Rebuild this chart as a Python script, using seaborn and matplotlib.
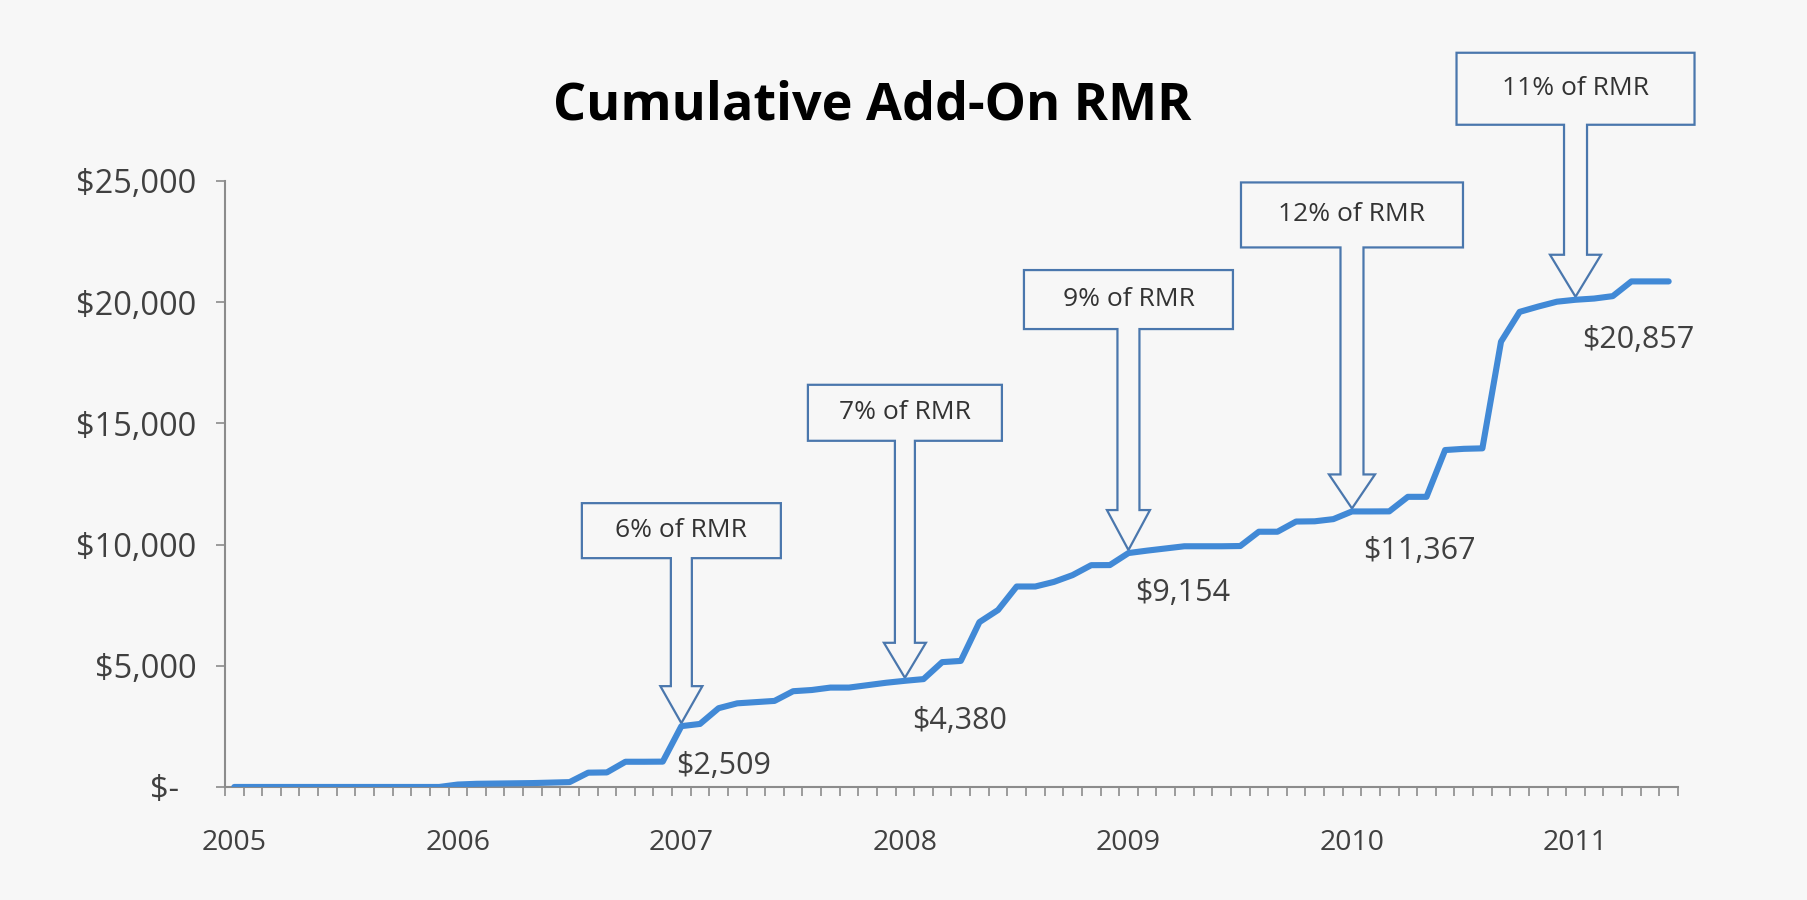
import numpy as np
import pandas as pd
import matplotlib
matplotlib.use("Agg")
import matplotlib.pyplot as plt
import matplotlib.transforms as mtransforms
from matplotlib.patches import Polygon
from matplotlib.ticker import FuncFormatter
import seaborn as sns

# Cumulative add-on RMR by month, Jan 2005 - Jun 2011
years = ["2005", "2006", "2007", "2008", "2009", "2010", "2011"]
rmr = [
    0, 0, 0, 0, 0, 0, 0, 0, 0, 0, 0, 0,                                          # 2005
    100, 130, 140, 150, 160, 180, 200, 590, 600, 1040, 1040, 1045,               # 2006
    2509, 2600, 3250, 3450, 3500, 3550, 3950, 4000, 4100, 4100, 4200, 4300,      # 2007
    4380, 4450, 5150, 5200, 6800, 7300, 8270, 8270, 8460, 8740, 9150, 9154,      # 2008
    9650, 9750, 9840, 9930, 9930, 9930, 9940, 10530, 10530, 10950, 10960, 11050, # 2009
    11367, 11367, 11370, 11970, 11970, 13900, 13950, 13970, 18370, 19600, 19820, 20020,  # 2010
    20100, 20150, 20250, 20857, 20857, 20857,                                    # 2011
]

# call-out arrows: text, month index they point at, and the value labels
callout_text = ["6% of RMR", "7% of RMR", "9% of RMR", "12% of RMR", "11% of RMR"]
callout_month = [24, 36, 48, 60, 72]
label_values = [2509, 4380, 9154, 11367, 20857]
label_dx = [-4, 5, 5, 8, 5]  # small horizontal nudges (points)

# call-out geometry in pixels: box w/h, gap tip->box, shaft w, head w/h
box_w = [199, 194, 209, 222, 238]
box_h = [55, 56, 59, 65, 72]
box_gap = [165, 237, 221, 261, 172]
shaft_w = [21, 20, 22, 23, 23]
head_w = [42, 42, 43, 46, 51]
head_h = [37, 35, 40, 34, 42]

df = pd.DataFrame({"month": np.arange(len(rmr)), "rmr": rmr})

sns.set_theme(style="white")
plt.rcParams["font.family"] = ["Open Sans", "DejaVu Sans"]

bg = "#f7f7f7"
axis_col = "#8c8c8c"
edge_col = "#4a77ad"

fig = plt.figure(figsize=(18.07, 9.0), dpi=100, facecolor=bg)
ax = fig.add_axes([0.1245, 0.1256, 0.8041, 0.6733])
ax.set_facecolor(bg)

sns.lineplot(data=df, x="month", y="rmr", ax=ax, color="#4189d6", linewidth=4.4,
             solid_capstyle="round", solid_joinstyle="round", zorder=3)

ax.set_xlim(-0.5, len(rmr) - 0.5)
ax.set_ylim(0, 25000)
ax.set_xlabel("")
ax.set_ylabel("")

for s in ["top", "right"]:
    ax.spines[s].set_visible(False)
for s in ["left", "bottom"]:
    ax.spines[s].set_color(axis_col)
    ax.spines[s].set_linewidth(1.5)

# y axis: accounting style dollars
ax.set_yticks(range(0, 25001, 5000))
ax.yaxis.set_major_formatter(FuncFormatter(lambda v, p: "$-  " if v == 0 else f"${v:,.0f}"))
ax.tick_params(axis="y", left=True, length=6.5, width=1.2, color=axis_col, pad=14,
               labelsize=23.5, labelcolor="#404040")

# x axis: a tick between every month, year labels at January
ax.set_xticks(np.arange(0, len(rmr), 12))
ax.set_xticklabels(years)
ax.set_xticks(np.arange(-0.5, len(rmr)), minor=True)
ax.tick_params(axis="x", which="major", bottom=True, length=0, pad=30,
               labelsize=20.5, labelcolor="#404040")
ax.tick_params(axis="x", which="minor", bottom=True, length=6.5, width=1.2, color=axis_col)

fig.text(0.4827, 0.882, "Cumulative Add-On RMR", ha="center", va="center",
         fontsize=37.5, fontweight="bold", color="black")

# arrow call-outs drawn in pixel space, anchored on the data point
ident = mtransforms.IdentityTransform()
for i, txt in enumerate(callout_text):
    m = callout_month[i]
    tx, ty = ax.transData.transform((m, rmr[m]))
    ty += 3
    bw, bh, gap = box_w[i], box_h[i], box_gap[i]
    sw, hw, hh = shaft_w[i], head_w[i], head_h[i]
    verts = [
        (tx, ty),
        (tx + hw / 2, ty + hh),
        (tx + sw / 2, ty + hh),
        (tx + sw / 2, ty + gap),
        (tx + bw / 2, ty + gap),
        (tx + bw / 2, ty + gap + bh),
        (tx - bw / 2, ty + gap + bh),
        (tx - bw / 2, ty + gap),
        (tx - sw / 2, ty + gap),
        (tx - sw / 2, ty + hh),
        (tx - hw / 2, ty + hh),
    ]
    ax.add_patch(Polygon(verts, closed=True, transform=ident, clip_on=False,
                         facecolor=bg, edgecolor=edge_col, linewidth=1.6, zorder=2))
    ax.text(tx, ty + gap + bh / 2, txt, transform=ident, ha="center", va="center",
            fontsize=19, color="#333333", clip_on=False, zorder=4)

# value labels under each arrow
for m, val, dx in zip(callout_month, label_values, label_dx):
    ax.annotate(f"${val:,}", xy=(m, rmr[m]), xytext=(dx, -18), textcoords="offset points",
                ha="left", va="top", fontsize=22, color="#404040", zorder=4)

fig.savefig("out.png", dpi=100, facecolor=bg)
